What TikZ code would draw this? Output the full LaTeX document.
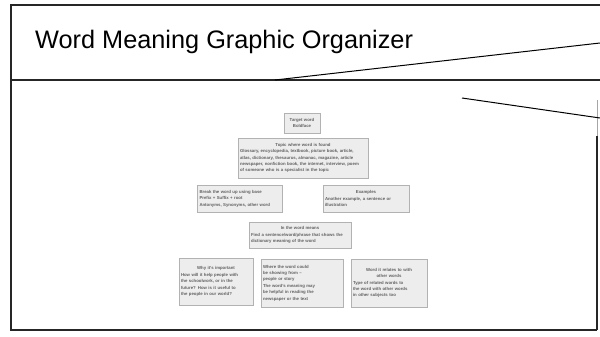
\documentclass[tikz,border=0pt]{standalone}
\usepackage{fontspec}
\setmainfont{Liberation Sans}
\newcommand{\boxhead}[1]{\makebox[\hsize][c]{#1}\\}
\begin{document}
\begin{tikzpicture}[x=1pt,y=-1pt,
  frame/.style={draw=black!85,line width=1.1pt},
  card/.style={draw=black!30,fill=black!7,line width=0.9pt,inner sep=2pt,
    align=left,text=black!62,font=\fontsize{4.3}{6.4}\selectfont\bfseries}]
\useasboundingbox (0,0) rectangle (600,337);
\fill[white] (0,0) rectangle (600,337);

% slide frame and title band
\coordinate (tl) at (11,5);
\coordinate (tr) at (600,5);
\coordinate (ml) at (11,80);
\coordinate (mr) at (600,80);
\coordinate (bl) at (11,330);
\coordinate (br) at (597,330);
\coordinate (rt) at (597,136);
\coordinate (rg) at (597,100);
\draw[frame] (tr) -- (tl) -- (bl) -- (br);
\draw[draw=black!85,line width=1.3pt] (br) -- (rt);
\draw[draw=black!35,line width=0.8pt] (rt) -- (rg);
\draw[frame] (ml) -- (mr);

\node[anchor=base west,inner sep=0pt,font=\fontsize{25.3}{30}\selectfont] (title)
  at (35,49) {Word Meaning Graphic Organizer};

% callout strokes
\coordinate (d1a) at (275,80);
\coordinate (d1b) at (600,43);
\coordinate (d2a) at (462,98);
\coordinate (d2b) at (600,118);
\draw[line width=1pt] (d1a) -- (d1b);
\draw[line width=1pt] (d2a) -- (d2b);

% organizer cards
\node[card,text width=32pt,minimum height=20pt,align=center] (target) at (302,123)
  {Target word\\ Boldface};
\node[card,text width=126pt,minimum height=40pt] (topic) at (303,158)
  {\boxhead{Topic where word is found}
   Glossary, encyclopedia, textbook, picture book, article,\\
   atlas, dictionary, thesaurus, almanac, magazine, article\\
   newspaper, nonfiction book, the internet, interview, poem\\
   of someone who is a specialist in the topic};
\node[card,text width=81pt,minimum height=27pt] (parts) at (240,198.5)
  {Break the word up using base\\
   Prefix + Suffix + root\\
   Antonyms, Synonyms, other word};
\node[card,text width=82pt,minimum height=27pt] (examples) at (366,198.5)
  {\boxhead{Examples}
   Another example, a sentence or\\
   illustration};
\node[card,text width=98pt,minimum height=26pt] (means) at (300,235)
  {\boxhead{In the word means}
   Find a sentence/word/phrase that shows the\\
   dictionary meaning of the word};
\node[card,text width=70pt,minimum height=47pt] (why) at (216,281.5)
  {\boxhead{Why it's important}
   How will it help people with\\
   the schoolwork, or in the\\
   future? How is it useful to\\
   the people in our world?};
\node[card,text width=78pt,minimum height=48pt] (where) at (302,283)
  {Where the word could\\
   be showing from --\\
   people or story\\
   The word's meaning may\\
   be helpful in reading the\\
   newspaper or the text};
\node[card,text width=72pt,minimum height=48pt] (relates) at (389,283)
  {\boxhead{Word it relates to with}
   \boxhead{other words}
   Type of related words to\\
   the word with other words\\
   in other subjects too};
\end{tikzpicture}
\end{document}
